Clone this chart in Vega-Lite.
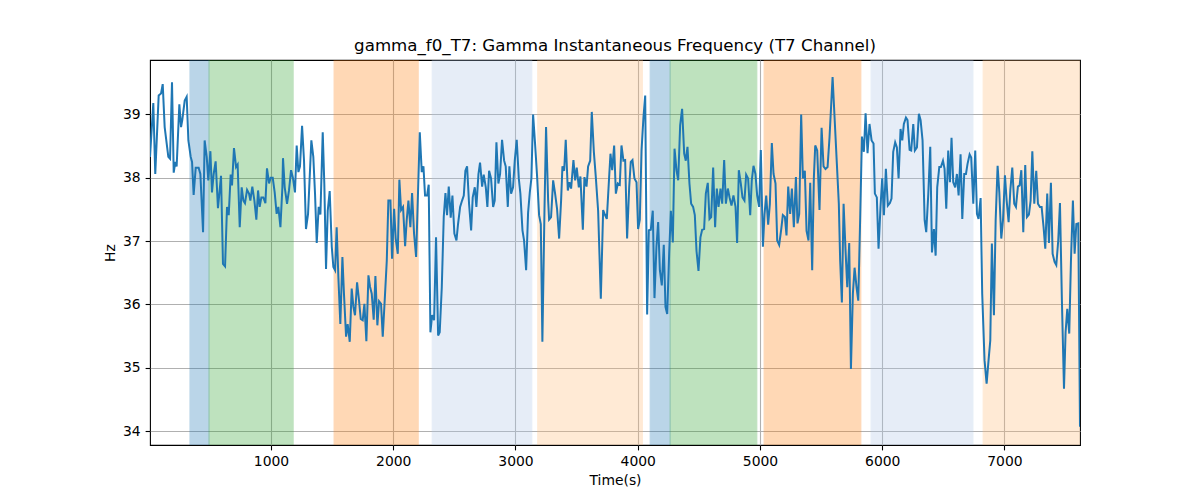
{
  "$schema": "https://vega.github.io/schema/vega-lite/v6.json",
  "autosize": {"type": "none"},
  "width": 930,
  "height": 385,
  "padding": {"left": 150, "top": 60, "right": 120, "bottom": 55},
  "background": "white",
  "title": {"text": "gamma_f0_T7: Gamma Instantaneous Frequency (T7 Channel)", "font": "DejaVu Sans", "fontSize": 16.67, "fontWeight": "normal", "color": "black", "offset": 5},
  "config": {
    "view": {"stroke": "black", "strokeWidth": 1.1},
    "axis": {
      "labelFont": "DejaVu Sans", "labelFontSize": 13.9, "labelColor": "black",
      "titleFont": "DejaVu Sans", "titleFontSize": 13.9, "titleFontWeight": "normal", "titleColor": "black",
      "grid": true, "gridColor": "#b0b0b0", "gridWidth": 1.1,
      "tickColor": "black", "tickSize": 4.9, "tickWidth": 1.1, "labelPadding": 4.9,
      "domain": false
    }
  },
  "datasets": {
    "bands": [
      {"start": 337, "end": 493, "state": "A"},
      {"start": 493, "end": 1181, "state": "B"},
      {"start": 1516, "end": 2204, "state": "C"},
      {"start": 2319, "end": 3133, "state": "D"},
      {"start": 3182, "end": 4038, "state": "E"},
      {"start": 4102, "end": 4265, "state": "A"},
      {"start": 4265, "end": 4974, "state": "B"},
      {"start": 5034, "end": 5825, "state": "C"},
      {"start": 5909, "end": 6742, "state": "D"},
      {"start": 6826, "end": 7700, "state": "E"}
    ],
    "series": [
      {"t":10,"hz":38.33},{"t":37,"hz":39.18},{"t":53,"hz":38.06},{"t":81,"hz":39.30},{"t":100,"hz":39.33},{"t":114,"hz":39.48},{"t":130,"hz":38.80},{"t":160,"hz":38.33},{"t":174,"hz":38.30},{"t":190,"hz":39.51},{"t":204,"hz":38.08},{"t":217,"hz":38.25},{"t":228,"hz":38.18},{"t":250,"hz":39.16},{"t":264,"hz":38.80},{"t":274,"hz":38.91},{"t":294,"hz":39.22},{"t":310,"hz":39.28},{"t":324,"hz":38.59},{"t":343,"hz":38.33},{"t":354,"hz":38.25},{"t":367,"hz":37.73},{"t":384,"hz":38.16},{"t":408,"hz":38.16},{"t":422,"hz":38.06},{"t":444,"hz":37.14},{"t":457,"hz":38.59},{"t":474,"hz":38.33},{"t":487,"hz":37.96},{"t":504,"hz":38.42},{"t":517,"hz":37.77},{"t":531,"hz":38.06},{"t":547,"hz":38.26},{"t":566,"hz":37.52},{"t":591,"hz":38.03},{"t":607,"hz":36.64},{"t":624,"hz":36.60},{"t":640,"hz":37.54},{"t":654,"hz":37.41},{"t":670,"hz":38.05},{"t":681,"hz":37.88},{"t":697,"hz":38.47},{"t":714,"hz":38.17},{"t":727,"hz":38.21},{"t":744,"hz":37.22},{"t":760,"hz":37.85},{"t":774,"hz":37.64},{"t":787,"hz":37.60},{"t":804,"hz":37.81},{"t":820,"hz":37.75},{"t":831,"hz":37.64},{"t":847,"hz":37.86},{"t":864,"hz":37.64},{"t":880,"hz":37.34},{"t":894,"hz":37.80},{"t":907,"hz":37.54},{"t":921,"hz":37.69},{"t":937,"hz":37.69},{"t":954,"hz":37.60},{"t":967,"hz":38.15},{"t":984,"hz":37.91},{"t":997,"hz":38.00},{"t":1014,"hz":38.00},{"t":1030,"hz":37.77},{"t":1046,"hz":37.43},{"t":1060,"hz":37.54},{"t":1077,"hz":37.22},{"t":1093,"hz":37.85},
      {"t":1098,"hz":38.31},{"t":1112,"hz":37.85},{"t":1131,"hz":37.59},{"t":1147,"hz":37.80},{"t":1164,"hz":38.12},{"t":1180,"hz":37.99},{"t":1196,"hz":37.77},{"t":1210,"hz":38.51},{"t":1224,"hz":38.09},{"t":1237,"hz":38.18},{"t":1254,"hz":38.82},{"t":1270,"hz":38.27},{"t":1286,"hz":37.19},{"t":1303,"hz":37.43},{"t":1330,"hz":38.59},{"t":1346,"hz":38.33},{"t":1360,"hz":37.75},{"t":1374,"hz":36.97},{"t":1390,"hz":37.54},{"t":1404,"hz":37.42},{"t":1423,"hz":38.72},{"t":1436,"hz":37.91},{"t":1450,"hz":36.56},{"t":1464,"hz":37.48},{"t":1480,"hz":37.79},{"t":1497,"hz":36.91},{"t":1510,"hz":36.59},{"t":1524,"hz":36.54},{"t":1537,"hz":37.22},{"t":1551,"hz":36.43},{"t":1567,"hz":35.69},{"t":1584,"hz":36.75},{"t":1597,"hz":36.16},{"t":1614,"hz":35.49},{"t":1627,"hz":35.69},{"t":1644,"hz":35.41},{"t":1660,"hz":36.25},{"t":1674,"hz":35.96},{"t":1687,"hz":35.83},{"t":1704,"hz":36.35},{"t":1720,"hz":36.06},{"t":1734,"hz":35.77},{"t":1750,"hz":35.75},{"t":1764,"hz":36.01},{"t":1780,"hz":35.42},{"t":1797,"hz":36.46},{"t":1810,"hz":36.28},{"t":1824,"hz":36.17},{"t":1840,"hz":35.76},{"t":1854,"hz":36.45},{"t":1870,"hz":35.67},{"t":1884,"hz":36.05},{"t":1900,"hz":36.01},{"t":1914,"hz":35.49},{"t":1933,"hz":36.17},{"t":1947,"hz":36.69},{"t":1960,"hz":37.64},{"t":1977,"hz":37.64},{"t":1990,"hz":36.72},{"t":2007,"hz":37.51},{"t":2020,"hz":37.04},{"t":2037,"hz":36.80},{"t":2050,"hz":37.97},{"t":2064,"hz":37.49},{"t":2080,"hz":37.54},{"t":2097,"hz":36.92},{"t":2110,"hz":37.33},{"t":2124,"hz":37.64},{"t":2140,"hz":37.22},{"t":2154,"hz":37.76},{"t":2170,"hz":37.12},{"t":2187,"hz":36.75},
      {"t":2217,"hz":38.72},{"t":2233,"hz":38.09},{"t":2247,"hz":38.18},{"t":2260,"hz":37.72},{"t":2277,"hz":37.72},{"t":2290,"hz":37.89},{"t":2304,"hz":35.56},{"t":2318,"hz":35.83},{"t":2334,"hz":35.75},{"t":2350,"hz":37.06},{"t":2367,"hz":35.51},{"t":2380,"hz":35.56},{"t":2397,"hz":36.27},{"t":2413,"hz":37.38},{"t":2427,"hz":37.76},{"t":2440,"hz":37.41},{"t":2454,"hz":37.86},{"t":2470,"hz":37.37},{"t":2484,"hz":37.72},{"t":2500,"hz":37.12},{"t":2517,"hz":37.01},{"t":2530,"hz":37.27},{"t":2547,"hz":37.54},{"t":2563,"hz":37.64},{"t":2577,"hz":37.72},{"t":2590,"hz":38.11},{"t":2604,"hz":38.18},{"t":2620,"hz":37.59},{"t":2637,"hz":37.17},{"t":2650,"hz":37.69},{"t":2667,"hz":37.85},{"t":2680,"hz":37.54},{"t":2697,"hz":38.06},{"t":2710,"hz":38.24},{"t":2727,"hz":37.86},{"t":2740,"hz":38.05},{"t":2757,"hz":37.85},{"t":2770,"hz":37.54},{"t":2784,"hz":38.11},{"t":2800,"hz":37.99},{"t":2817,"hz":37.54},{"t":2830,"hz":37.64},{"t":2844,"hz":38.56},{"t":2860,"hz":37.91},{"t":2874,"hz":38.06},{"t":2890,"hz":38.60},{"t":2907,"hz":38.27},{"t":2920,"hz":38.18},{"t":2937,"hz":37.54},{"t":2950,"hz":38.18},{"t":2964,"hz":37.75},{"t":2980,"hz":37.85},{"t":2994,"hz":38.27},{"t":3010,"hz":38.60},{"t":3027,"hz":37.99},{"t":3040,"hz":37.75},{"t":3057,"hz":37.17},{"t":3070,"hz":37.01},{"t":3087,"hz":36.54},{"t":3103,"hz":37.45},{"t":3117,"hz":37.77},{"t":3130,"hz":37.99},{"t":3144,"hz":39.00},{"t":3160,"hz":38.54},{"t":3177,"hz":38.01},{"t":3193,"hz":37.41},{"t":3207,"hz":37.27},{"t":3220,"hz":35.41},{"t":3237,"hz":37.48},{"t":3250,"hz":38.80},{"t":3267,"hz":37.64},
      {"t":3275,"hz":37.34},{"t":3291,"hz":37.38},{"t":3308,"hz":37.96},{"t":3324,"hz":37.75},{"t":3340,"hz":37.51},{"t":3357,"hz":37.04},{"t":3373,"hz":37.64},{"t":3384,"hz":38.18},{"t":3398,"hz":38.11},{"t":3411,"hz":38.60},{"t":3428,"hz":37.80},{"t":3441,"hz":37.93},{"t":3455,"hz":37.83},{"t":3474,"hz":38.28},{"t":3488,"hz":37.96},{"t":3501,"hz":38.16},{"t":3518,"hz":37.85},{"t":3531,"hz":38.02},{"t":3551,"hz":37.18},{"t":3564,"hz":38.01},{"t":3581,"hz":37.86},{"t":3594,"hz":38.18},{"t":3611,"hz":38.27},{"t":3624,"hz":39.04},{"t":3641,"hz":38.41},{"t":3657,"hz":38.01},{"t":3676,"hz":37.48},{"t":3698,"hz":36.09},{"t":3717,"hz":37.49},{"t":3731,"hz":37.42},{"t":3747,"hz":37.35},{"t":3766,"hz":38.01},{"t":3777,"hz":38.38},{"t":3791,"hz":38.12},{"t":3807,"hz":38.51},{"t":3821,"hz":37.75},{"t":3837,"hz":37.91},{"t":3853,"hz":37.89},{"t":3867,"hz":38.51},{"t":3883,"hz":38.27},{"t":3897,"hz":38.28},{"t":3913,"hz":37.04},{"t":3930,"hz":37.85},{"t":3943,"hz":38.25},{"t":3957,"hz":38.28},{"t":3973,"hz":37.99},{"t":3990,"hz":37.93},{"t":4003,"hz":37.19},{"t":4017,"hz":37.34},{"t":4031,"hz":38.43},{"t":4047,"hz":38.96},{"t":4061,"hz":39.30},{"t":4077,"hz":35.84},{"t":4091,"hz":37.17},{"t":4107,"hz":37.18},{"t":4123,"hz":37.48},{"t":4137,"hz":36.10},{"t":4153,"hz":36.91},{"t":4167,"hz":37.30},{"t":4181,"hz":36.54},{"t":4197,"hz":36.30},{"t":4213,"hz":36.94},{"t":4227,"hz":35.96},{"t":4241,"hz":35.85},{"t":4257,"hz":36.80},{"t":4271,"hz":37.48},{"t":4287,"hz":36.98},{"t":4301,"hz":38.46},{"t":4317,"hz":38.12},{"t":4331,"hz":37.96},{"t":4347,"hz":38.83},{"t":4363,"hz":39.09},
      {"t":4380,"hz":38.38},{"t":4393,"hz":38.27},{"t":4407,"hz":38.49},{"t":4423,"hz":37.91},{"t":4437,"hz":37.59},{"t":4453,"hz":37.54},{"t":4467,"hz":37.41},{"t":4481,"hz":36.84},{"t":4497,"hz":36.53},{"t":4513,"hz":37.06},{"t":4527,"hz":37.18},{"t":4543,"hz":37.19},{"t":4557,"hz":37.75},{"t":4573,"hz":37.92},{"t":4587,"hz":37.35},{"t":4601,"hz":37.38},{"t":4617,"hz":38.16},{"t":4633,"hz":37.22},{"t":4647,"hz":37.83},{"t":4661,"hz":37.54},{"t":4677,"hz":37.83},{"t":4691,"hz":37.59},{"t":4707,"hz":38.28},{"t":4721,"hz":37.59},{"t":4737,"hz":37.83},{"t":4751,"hz":37.69},{"t":4767,"hz":37.56},{"t":4783,"hz":37.72},{"t":4800,"hz":37.54},{"t":4813,"hz":36.97},{"t":4827,"hz":38.12},{"t":4843,"hz":37.91},{"t":4857,"hz":37.69},{"t":4873,"hz":37.64},{"t":4887,"hz":38.05},{"t":4903,"hz":37.99},{"t":4920,"hz":37.41},{"t":4933,"hz":37.96},{"t":4947,"hz":38.19},{"t":4963,"hz":38.06},{"t":4977,"hz":37.72},{"t":4993,"hz":37.54},{"t":5007,"hz":38.44},{"t":5024,"hz":36.91},{"t":5037,"hz":37.42},{"t":5051,"hz":37.72},{"t":5067,"hz":37.26},{"t":5081,"hz":37.59},{"t":5097,"hz":38.55},{"t":5111,"hz":38.06},{"t":5127,"hz":37.91},{"t":5141,"hz":37.01},{"t":5157,"hz":36.94},{"t":5174,"hz":37.19},{"t":5187,"hz":37.41},{"t":5204,"hz":37.38},{"t":5217,"hz":37.09},{"t":5231,"hz":37.86},{"t":5247,"hz":37.43},{"t":5261,"hz":37.83},{"t":5277,"hz":37.22},{"t":5294,"hz":38.01},{"t":5307,"hz":37.28},{"t":5321,"hz":37.43},{"t":5337,"hz":39.00},{"t":5351,"hz":37.99},{"t":5367,"hz":38.11},{"t":5381,"hz":37.16},{"t":5397,"hz":37.01},{"t":5411,"hz":37.92},{"t":5427,"hz":36.54},{"t":5441,"hz":38.01},
      {"t":5452,"hz":38.51},{"t":5468,"hz":38.43},{"t":5487,"hz":37.49},{"t":5504,"hz":38.79},{"t":5520,"hz":38.18},{"t":5536,"hz":38.14},{"t":5553,"hz":38.17},{"t":5569,"hz":38.64},{"t":5594,"hz":39.59},{"t":5610,"hz":38.96},{"t":5629,"hz":38.22},{"t":5645,"hz":37.59},{"t":5656,"hz":36.69},{"t":5670,"hz":36.03},{"t":5684,"hz":37.59},{"t":5700,"hz":36.85},{"t":5714,"hz":36.27},{"t":5730,"hz":36.97},{"t":5744,"hz":34.98},{"t":5760,"hz":36.17},{"t":5774,"hz":36.58},{"t":5790,"hz":36.27},{"t":5804,"hz":36.06},{"t":5820,"hz":37.38},{"t":5834,"hz":38.65},{"t":5850,"hz":38.41},{"t":5864,"hz":39.02},{"t":5880,"hz":38.39},{"t":5896,"hz":38.85},{"t":5913,"hz":38.59},{"t":5929,"hz":38.54},{"t":5940,"hz":37.75},{"t":5956,"hz":37.69},{"t":5970,"hz":36.88},{"t":5986,"hz":37.54},{"t":6000,"hz":37.99},{"t":6014,"hz":37.41},{"t":6030,"hz":38.14},{"t":6046,"hz":37.56},{"t":6063,"hz":37.60},{"t":6076,"hz":37.67},{"t":6090,"hz":38.41},{"t":6106,"hz":38.56},{"t":6120,"hz":38.48},{"t":6134,"hz":37.99},{"t":6150,"hz":38.77},{"t":6164,"hz":38.59},{"t":6177,"hz":38.85},{"t":6194,"hz":38.95},{"t":6207,"hz":38.91},{"t":6224,"hz":38.44},{"t":6237,"hz":38.43},{"t":6254,"hz":38.85},{"t":6267,"hz":38.43},{"t":6284,"hz":38.48},{"t":6300,"hz":39.01},{"t":6314,"hz":38.91},{"t":6330,"hz":38.59},{"t":6347,"hz":37.33},{"t":6360,"hz":37.14},{"t":6377,"hz":37.75},{"t":6393,"hz":38.49},{"t":6407,"hz":36.82},{"t":6423,"hz":37.19},{"t":6437,"hz":36.77},{"t":6450,"hz":37.85},{"t":6467,"hz":38.17},{"t":6480,"hz":38.17},{"t":6497,"hz":38.27},{"t":6510,"hz":38.14},{"t":6524,"hz":37.51},
      {"t":6540,"hz":38.43},{"t":6554,"hz":37.93},{"t":6567,"hz":38.63},{"t":6581,"hz":37.93},{"t":6597,"hz":37.85},{"t":6611,"hz":38.06},{"t":6625,"hz":37.72},{"t":6641,"hz":38.37},{"t":6655,"hz":37.35},{"t":6671,"hz":38.06},{"t":6685,"hz":38.06},{"t":6698,"hz":38.22},{"t":6715,"hz":38.37},{"t":6728,"hz":38.32},{"t":6745,"hz":37.59},{"t":6761,"hz":38.43},{"t":6775,"hz":37.43},{"t":6788,"hz":37.35},{"t":6805,"hz":37.68},{"t":6818,"hz":36.17},{"t":6837,"hz":35.12},{"t":6854,"hz":34.75},{"t":6870,"hz":35.12},{"t":6884,"hz":35.43},{"t":6897,"hz":36.96},{"t":6914,"hz":35.83},{"t":6928,"hz":37.33},{"t":6944,"hz":38.19},{"t":6958,"hz":37.77},{"t":6974,"hz":37.04},{"t":6988,"hz":37.33},{"t":7004,"hz":38.04},{"t":7018,"hz":37.64},{"t":7034,"hz":37.30},{"t":7048,"hz":37.80},{"t":7064,"hz":38.16},{"t":7080,"hz":37.59},{"t":7094,"hz":37.54},{"t":7110,"hz":37.86},{"t":7124,"hz":37.88},{"t":7138,"hz":38.12},{"t":7154,"hz":37.14},{"t":7170,"hz":38.20},{"t":7184,"hz":37.38},{"t":7200,"hz":37.42},{"t":7214,"hz":37.64},{"t":7228,"hz":38.42},{"t":7244,"hz":37.59},{"t":7260,"hz":38.11},{"t":7274,"hz":37.59},{"t":7290,"hz":37.54},{"t":7304,"hz":37.54},{"t":7320,"hz":37.22},{"t":7334,"hz":36.88},{"t":7350,"hz":37.75},{"t":7364,"hz":36.97},{"t":7380,"hz":37.92},{"t":7394,"hz":36.80},{"t":7410,"hz":36.67},{"t":7424,"hz":36.62},{"t":7440,"hz":37.01},{"t":7454,"hz":37.60},{"t":7470,"hz":36.06},{"t":7487,"hz":34.67},{"t":7500,"hz":35.56},{"t":7514,"hz":35.93},{"t":7530,"hz":35.54},{"t":7544,"hz":36.69},{"t":7560,"hz":37.64},{"t":7574,"hz":36.80},{"t":7588,"hz":37.27},{"t":7604,"hz":37.28},{"t":7618,"hz":34.07}
    ]
  },
  "layer": [
    {
      "data": {"name": "bands"},
      "mark": {"type": "rect", "clip": true, "opacity": 0.3, "strokeWidth": 1.1},
      "encoding": {
        "x": {"field": "start", "type": "quantitative", "scale": {"domain": [10, 7618], "nice": false, "zero": false},
              "axis": {"title": "Time(s)", "values": [1000, 2000, 3000, 4000, 5000, 6000, 7000], "format": "d", "titlePadding": 5}},
        "x2": {"field": "end"},
        "color": {"field": "state", "type": "nominal", "legend": null,
                  "scale": {"domain": ["A", "B", "C", "D", "E"], "range": ["#1f77b4", "#2ca02c", "#ff7f0e", "#aec7e8", "#ffbb78"]}},
        "stroke": {"field": "state", "type": "nominal", "legend": null,
                  "scale": {"domain": ["A", "B", "C", "D", "E"], "range": ["#1f77b4", "#2ca02c", "#ff7f0e", "#aec7e8", "#ffbb78"]}}
      }
    },
    {
      "data": {"name": "series"},
      "mark": {"type": "line", "clip": true, "color": "#1f77b4", "strokeWidth": 2},
      "encoding": {
        "x": {"field": "t", "type": "quantitative"},
        "y": {"field": "hz", "type": "quantitative", "scale": {"domain": [33.78, 39.86], "nice": false, "zero": false},
              "axis": {"title": "Hz", "values": [34, 35, 36, 37, 38, 39], "titlePadding": 5}}
      }
    }
  ]
}
